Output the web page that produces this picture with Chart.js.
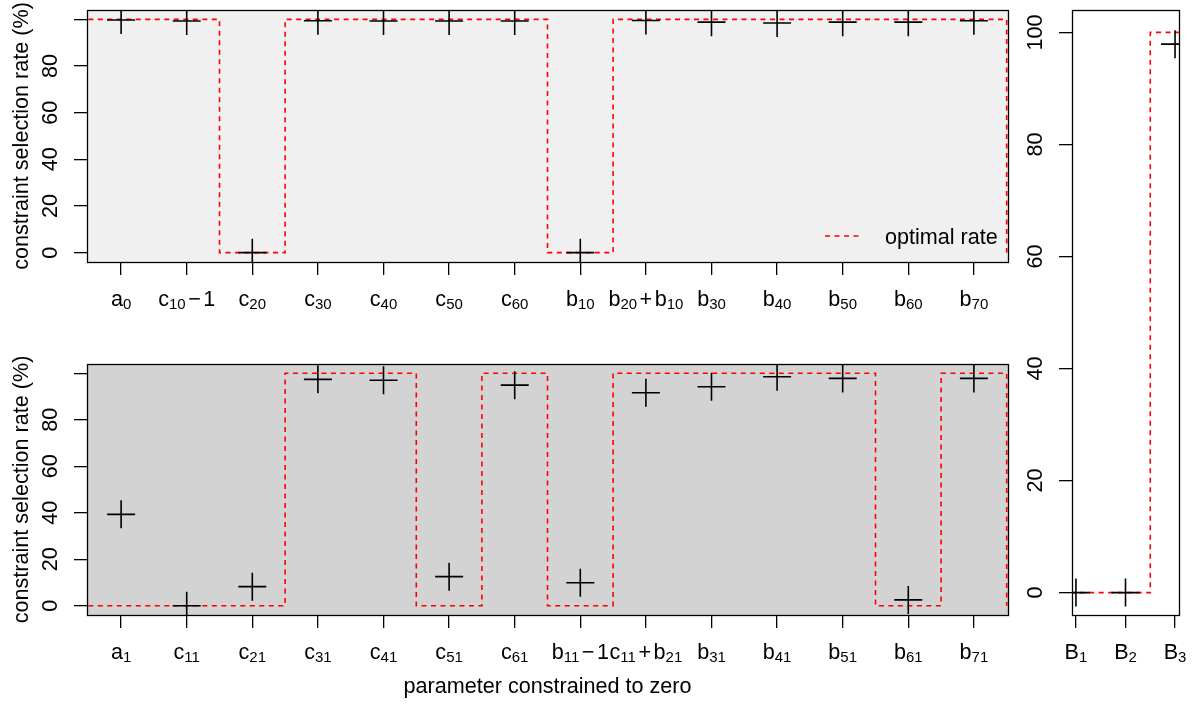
<!DOCTYPE html>
<html>
<head>
<meta charset="utf-8">
<script src="https://cdn.jsdelivr.net/npm/chart.js@4"></script>
<style>
  body { margin: 0; background: #fff; }
  #wrap { position: relative; width: 1197px; height: 704px; }
  canvas { position: absolute; left: 0; top: 0; }
</style>
</head>
<body>
<div id="wrap">
  <canvas id="top-chart" width="1197" height="704"></canvas>
  <canvas id="bottom-chart" width="1197" height="704"></canvas>
  <canvas id="side-chart" width="1197" height="704"></canvas>
</div>
<script>
// tick labels, "x_n" means n is written as a subscript
const topLabels = ["a_0", "c_10 - 1", "c_20", "c_30", "c_40", "c_50", "c_60", "b_10", "b_20 + b_10", "b_30", "b_40", "b_50", "b_60", "b_70"];
const bottomLabels = ["a_1", "c_11", "c_21", "c_31", "c_41", "c_51", "c_61", "b_11 - 1", "c_11 + b_21", "b_31", "b_41", "b_51", "b_61", "b_71"];
const sideLabels = ["B_1", "B_2", "B_3"];

// observed constraint selection rate (%)
const topRate = [99.7, 99.3, 0, 99.4, 99.3, 99.3, 99.3, 0, 99.5, 98.8, 98.4, 98.8, 98.8, 99.4];
const bottomRate = [39.3, 0, 8.2, 97.4, 97.0, 12.5, 94.9, 9.9, 91.6, 94.2, 98.5, 97.8, 2.5, 97.8];
const sideRate = [0, 0, 97.9];

// optimal rate (%)
const topOptimal = [100, 100, 0, 100, 100, 100, 100, 0, 100, 100, 100, 100, 100, 100];
const bottomOptimal = [0, 0, 0, 100, 100, 0, 100, 0, 100, 100, 100, 100, 0, 100];
const sideOptimal = [0, 0, 100];

const yTicks = [0, 20, 40, 60, 80, 100];
const leftYLabels = [0, 20, 40, 60, 80];
const sideYLabels = [0, 20, 40, 60, 80, 100];

const FONT = '21.6px "Liberation Sans", Arial, sans-serif';
const SUBFONT = '15px "Liberation Sans", Arial, sans-serif';

// "c_10 - 1" -> pieces with subscripts and operators
function parseLabel(s) {
  const parts = [];
  s.split(' ').forEach(tok => {
    if (tok === '+' || tok === '-') {
      parts.push({ text: tok === '-' ? '\u2212' : '+', op: true });
    } else {
      const m = tok.match(/^([A-Za-z]+)_(\d+)$/);
      if (m) {
        parts.push({ text: m[1] });
        parts.push({ text: m[2], sub: true });
      } else {
        parts.push({ text: tok });
      }
    }
  });
  return parts;
}

function drawRichLabel(ctx, s, cx, baseline) {
  const parts = parseLabel(s);
  let total = 0;
  parts.forEach(p => {
    ctx.font = p.sub ? SUBFONT : FONT;
    p.w = ctx.measureText(p.text).width;
    p.gap = p.op ? 2.5 : 0;
    total += p.w + 2 * p.gap;
  });
  let x = cx - total / 2;
  ctx.textAlign = 'left';
  ctx.textBaseline = 'alphabetic';
  parts.forEach(p => {
    ctx.font = p.sub ? SUBFONT : FONT;
    x += p.gap;
    ctx.fillText(p.text, x, baseline + (p.sub ? 3 : 0));
    x += p.w + p.gap;
  });
}

// steps sit between categories, last one falls to the next panel's first value
function stepPoints(opt, next) {
  const pts = opt.map((v, i) => ({ x: i + 0.5, y: v }));
  pts.push({ x: opt.length + 0.5, y: next });
  return pts;
}

const decor = {
  id: 'decor',
  beforeDraw(chart, args, o) {
    const a = chart.chartArea, ctx = chart.ctx;
    ctx.save();
    ctx.fillStyle = o.bg;
    ctx.fillRect(a.left, a.top, a.right - a.left, a.bottom - a.top);
    ctx.restore();
  },
  afterDatasetsDraw(chart, args, o) {
    const a = chart.chartArea, ctx = chart.ctx;
    ctx.save();
    ctx.strokeStyle = '#000';
    ctx.lineWidth = 1.3;
    ctx.strokeRect(Math.round(a.left) + 0.5, Math.round(a.top) + 0.5,
      Math.round(a.right - a.left), Math.round(a.bottom - a.top));
    ctx.restore();
  },
  afterDraw(chart, args, o) {
    const a = chart.chartArea, ctx = chart.ctx;
    const xs = chart.scales.x, ys = chart.scales.y;
    ctx.save();
    ctx.fillStyle = '#000';
    // x tick labels
    o.labels.forEach((l, i) => {
      drawRichLabel(ctx, l, xs.getPixelForValue(i + 1), a.bottom + 44);
    });
    // y tick labels, parallel to the axis
    ctx.font = FONT;
    ctx.textAlign = 'center';
    ctx.textBaseline = 'alphabetic';
    o.yLabels.forEach(v => {
      ctx.save();
      ctx.translate(a.left - 30, ys.getPixelForValue(v));
      ctx.rotate(-Math.PI / 2);
      ctx.fillText(String(v), 0, 0);
      ctx.restore();
    });
    if (o.yTitle) {
      ctx.save();
      ctx.translate(28, (a.top + a.bottom) / 2);
      ctx.rotate(-Math.PI / 2);
      ctx.fillText(o.yTitle, 0, 0);
      ctx.restore();
    }
    if (o.xTitle) {
      ctx.fillText(o.xTitle, (a.left + a.right) / 2, 693);
    }
    if (o.legend) {
      const ds = chart.data.datasets[1];
      const ly = a.bottom - 26;
      ctx.strokeStyle = ds.borderColor;
      ctx.lineWidth = ds.borderWidth;
      ctx.setLineDash(ds.borderDash);
      ctx.beginPath();
      ctx.moveTo(a.right - 183, ly);
      ctx.lineTo(a.right - 145, ly);
      ctx.stroke();
      ctx.setLineDash([]);
      ctx.textAlign = 'left';
      ctx.fillText(ds.label, a.right - 123, a.bottom - 18);
    }
    ctx.restore();
  }
};

function makePanel(id, o) {
  const n = o.labels.length;
  const ext = (n - 1) * 0.04;
  const canvas = document.getElementById(id);
  const options = {
    type: 'scatter',
    data: {
      datasets: [
        {
          label: 'selection rate',
          data: o.rate.map((v, i) => ({ x: i + 1, y: v })),
          pointStyle: 'cross',
          pointRadius: 14,
          borderColor: '#000',
          pointBorderColor: '#000',
          pointBorderWidth: 1.6,
          showLine: false,
          clip: 0,
          order: 0
        },
        {
          label: 'optimal rate',
          data: stepPoints(o.optimal, o.next),
          showLine: true,
          stepped: 'before',
          borderColor: '#ff0000',
          borderWidth: 1.6,
          borderDash: [5, 4.5],
          pointRadius: 0,
          clip: 0,
          order: 1
        }
      ]
    },
    options: {
      responsive: false,
      animation: false,
      events: [],
      layout: { autoPadding: false, padding: o.pad },
      scales: {
        x: {
          type: 'linear',
          min: 1 - ext,
          max: n + ext,
          afterBuildTicks: s => { s.ticks = o.labels.map((l, i) => ({ value: i + 1 })); },
          afterFit: s => { s.height = 20; },
          ticks: { display: false },
          grid: { drawOnChartArea: false, drawTicks: true, tickLength: 13, color: '#000', lineWidth: 1.3 },
          border: { display: false }
        },
        y: {
          type: 'linear',
          min: -4,
          max: 104,
          afterBuildTicks: s => { s.ticks = yTicks.map(v => ({ value: v })); },
          afterFit: s => { s.width = 30; },
          ticks: { display: false },
          grid: { drawOnChartArea: false, drawTicks: true, tickLength: 13, color: '#000', lineWidth: 1.3 },
          border: { display: false }
        }
      },
      plugins: {
        legend: { display: false },
        tooltip: { enabled: false },
        title: { display: false },
        decor: {
          bg: o.bg,
          labels: o.labels,
          yLabels: o.yLabels,
          yTitle: o.yTitle,
          xTitle: o.xTitle,
          legend: o.legend
        }
      }
    },
    plugins: [decor]
  };
  return new Chart(canvas.getContext('2d'), options);
}

makePanel('top-chart', {
  labels: topLabels, rate: topRate, optimal: topOptimal, next: bottomOptimal[0],
  pad: { left: 57, right: 189, top: 10, bottom: 422 },
  bg: '#f0f0f0', yLabels: leftYLabels,
  yTitle: 'constraint selection rate (%)', legend: true
});

makePanel('bottom-chart', {
  labels: bottomLabels, rate: bottomRate, optimal: bottomOptimal, next: sideOptimal[0],
  pad: { left: 57, right: 189, top: 364, bottom: 69 },
  bg: '#d3d3d3', yLabels: leftYLabels,
  yTitle: 'constraint selection rate (%)', xTitle: 'parameter constrained to zero'
});

makePanel('side-chart', {
  labels: sideLabels, rate: sideRate, optimal: sideOptimal, next: sideOptimal[sideOptimal.length - 1],
  pad: { left: 1042, right: 18, top: 10, bottom: 69 },
  bg: '#ffffff', yLabels: sideYLabels
});
</script>
</body>
</html>
